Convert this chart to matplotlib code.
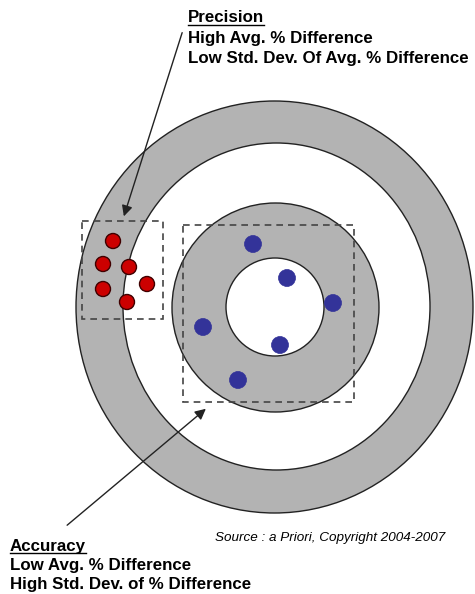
import matplotlib
matplotlib.use('Agg')
import matplotlib.pyplot as plt
from matplotlib.patches import Ellipse, Rectangle, Circle

# target rings: (cx, cy, width, height, fill) in pixel units
ring_cx = [274.5, 276.5, 275.5, 275.0]
ring_cy = [307.0, 306.5, 307.5, 307.0]
ring_w = [397, 307, 207, 98]
ring_h = [412, 327, 209, 98]
ring_fill = ['#b3b3b3', 'white', '#b3b3b3', 'white']

# shots
red_x = [113, 103, 129, 103, 147, 127]
red_y = [241, 264, 267, 289, 284, 302]
blue_x = [253, 287, 333, 203, 280, 238]
blue_y = [244, 278, 303, 327, 345, 380]

# dashed groupings (x0, y0, x1, y1)
prec_box = (82, 221, 163, 319)
acc_box = (183, 225, 354, 402)

prec_lines = ['Precision', 'High Avg. % Difference', 'Low Std. Dev. Of Avg. % Difference']
acc_lines = ['Accuracy', 'Low Avg. % Difference', 'High Std. Dev. of % Difference']
source = 'Source : a Priori, Copyright 2004-2007'

W, H = 475, 594
fig = plt.figure(figsize=(W / 100, H / 100), dpi=100)
ax = fig.add_axes([0, 0, 1, 1])
ax.set_xlim(0, W)
ax.set_ylim(H, 0)
ax.axis('off')

for cx, cy, w, h, fc in zip(ring_cx, ring_cy, ring_w, ring_h, ring_fill):
    ax.add_patch(Ellipse((cx, cy), w, h, facecolor=fc, edgecolor='#222222', lw=1.0))

for x, y in zip(red_x, red_y):
    ax.add_patch(Circle((x, y), 7.5, facecolor='#cc0000', edgecolor='#400000', lw=1.0, zorder=3))
for x, y in zip(blue_x, blue_y):
    ax.add_patch(Circle((x, y), 8.5, facecolor='#333399', edgecolor='#333399', lw=0.5, zorder=3))

for b in [prec_box, acc_box]:
    ax.add_patch(Rectangle((b[0], b[1]), b[2] - b[0], b[3] - b[1], fill=False,
                           edgecolor='#444444', lw=1.2, ls=(0, (4, 3)), zorder=4))

ax.annotate('', xy=(123, 219), xytext=(183, 30),
            arrowprops=dict(arrowstyle='-|>', color='#222222', lw=1.0, mutation_scale=16), zorder=5)
ax.annotate('', xy=(208, 407), xytext=(65, 527),
            arrowprops=dict(arrowstyle='-|>', color='#222222', lw=1.0, mutation_scale=16), zorder=5)

font = dict(family='Liberation Sans', fontsize=12.2, fontweight='bold', color='black')
heads = []
for i, s in enumerate(prec_lines):
    t = ax.text(188, 18 + i * 20, s, va='center', ha='left', **font)
    if i == 0:
        heads.append(t)
for i, s in enumerate(acc_lines):
    t = ax.text(10, 546 + i * 19.5, s, va='center', ha='left', **font)
    if i == 0:
        heads.append(t)

ax.text(215, 538, source, va='center', ha='left', family='Liberation Sans',
        fontsize=9.7, style='italic')

# underline the headings
fig.canvas.draw()
r = fig.canvas.get_renderer()
inv = ax.transData.inverted()
for t in heads:
    bb = t.get_window_extent(r)
    (x0, y0), (x1, y1) = inv.transform([[bb.x0, bb.y0], [bb.x1, bb.y1]])
    ax.plot([x0, x1], [y0 - 1, y0 - 1], color='black', lw=1.0)

fig.savefig('out.png', dpi=100)
